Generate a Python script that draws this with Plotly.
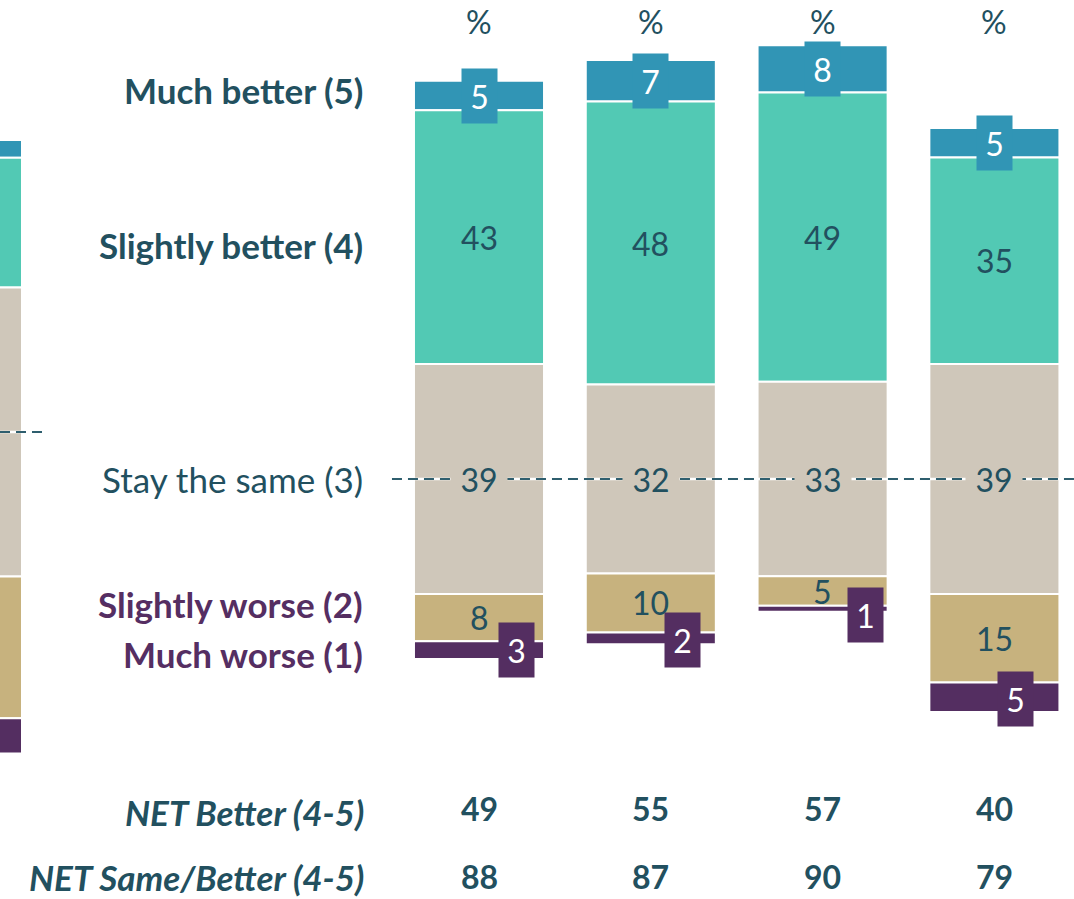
import plotly.graph_objects as go

# Share expecting things to get better/worse, diverging around "Stay the same"
much_better = [5, 7, 8, 5]
slightly_better = [43, 48, 49, 35]
stay_same = [39, 32, 33, 39]
slightly_worse = [8, 10, 5, 15]
much_worse = [3, 2, 1, 5]
net_better = [49, 55, 57, 40]
net_same_better = [88, 87, 90, 79]

# bar of the neighbouring panel, only its right edge shows
prev_much_better = [3]
prev_slightly_better = [22]
prev_stay_same = [49]
prev_slightly_worse = [24]
prev_much_worse = [6]

row_labels = ["Much better (5)", "Slightly better (4)", "Stay the same (3)",
              "Slightly worse (2)", "Much worse (1)"]
net_labels = ["NET Better (4-5)", "NET Same/Better (4-5)"]

C_MB = "#3195B5"
C_SB = "#52C9B4"
C_SS = "#CFC7BA"
C_SW = "#C7B27E"
C_MW = "#542E61"
TEAL = "#22505F"
PURPLE = "#552E62"
FONT = "Lato"

W, H = 1074, 899
PX_UNIT = 5.9       # pixels per percentage point
PX_SLOT = 171.8     # pixels between bar centres
FIRST_X = 479       # pixel x of first bar centre
CENTER_Y = 479      # pixel y of the "same" midline
PREV_CENTER_Y = 432
BAR_W = 0.757
LINE_PAD = 22 / PX_SLOT

xs = list(range(len(much_better)))


def stack(mb, sb, ss, sw, mw):
    ss_base = [-v / 2 for v in ss]
    sb_base = [v / 2 for v in ss]
    mb_base = [a + b for a, b in zip(sb_base, sb)]
    sw_base = [a - b for a, b in zip(ss_base, sw)]
    mw_base = [a - b for a, b in zip(sw_base, mw)]
    return [(mb, mb_base, C_MB), (sb, sb_base, C_SB), (ss, ss_base, C_SS),
            (sw, sw_base, C_SW), (mw, mw_base, C_MW)]


fig = go.Figure()

main = stack(much_better, slightly_better, stay_same, slightly_worse, much_worse)
for vals, base, col in main:
    fig.add_trace(go.Bar(x=xs, y=vals, base=base, width=BAR_W,
                         marker=dict(color=col, line=dict(color="white", width=2)),
                         hoverinfo="skip", showlegend=False))

prev = stack(prev_much_better, prev_slightly_better, prev_stay_same,
             prev_slightly_worse, prev_much_worse)
for vals, base, col in prev:
    fig.add_trace(go.Bar(x=[0], y=vals, base=base, width=BAR_W,
                         marker=dict(color=col, line=dict(color="white", width=2)),
                         xaxis="x2", yaxis="y2", hoverinfo="skip", showlegend=False))

# dashed midlines (white underlay so gaps look white over the bars)
x2_left = BAR_W / 2 - 22 / PX_SLOT
for xref, yref, x0, x1 in [("x", "y", -BAR_W / 2 - LINE_PAD, (W - FIRST_X) / PX_SLOT),
                           ("x2", "y2", x2_left, BAR_W / 2 + LINE_PAD)]:
    fig.add_shape(type="line", xref=xref, yref=yref, x0=x0, x1=x1, y0=0, y1=0,
                  line=dict(color="white", width=2.5), layer="above")
    fig.add_shape(type="line", xref=xref, yref=yref, x0=x0, x1=x1, y0=0, y1=0,
                  line=dict(color="#2E5E6E", width=2, dash="10px,6px"), layer="above")

VAL_SIZE = 32
ann = []
mw_xshift = [37, 32, 43, 21]
mw_yshift = [0, -2, -6, -2]
(mb_v, mb_b, _), (sb_v, sb_b, _), (ss_v, ss_b, _), (sw_v, sw_b, _), (mw_v, mw_b, _) = main


def note(**kw):
    kw.setdefault("showarrow", False)
    kw.setdefault("yanchor", "middle")
    kw.setdefault("xanchor", "center")
    ann.append(kw)


for i in xs:
    # much better: white figure on blue tab
    note(x=i, y=mb_b[i] + mb_v[i] / 2, text=str(mb_v[i]),
         font=dict(family=FONT, size=VAL_SIZE, color="white"),
         bgcolor=C_MB, width=35, height=54, borderpad=0)
    note(x=i, y=sb_b[i] + sb_v[i] / 2, text=str(sb_v[i]),
         font=dict(family=FONT, size=VAL_SIZE, color=TEAL))
    note(x=i, y=ss_b[i] + ss_v[i] / 2, text=str(ss_v[i]),
         font=dict(family=FONT, size=VAL_SIZE, color=TEAL),
         bgcolor=C_SS, width=56, height=36, borderpad=0)
    note(x=i, y=sw_b[i] + sw_v[i] / 2, text=str(sw_v[i]),
         font=dict(family=FONT, size=VAL_SIZE, color=TEAL))
    note(x=i, y=mw_b[i] + mw_v[i] / 2, text=str(mw_v[i]),
         xshift=mw_xshift[i], yshift=mw_yshift[i],
         font=dict(family=FONT, size=VAL_SIZE, color="white"),
         bgcolor=C_MW, width=35, height=54, borderpad=0)
    # percent sign and NET rows
    note(x=i, y=1 - 22 / H, yref="paper", text="%",
         font=dict(family=FONT, size=VAL_SIZE, color=TEAL))
    note(x=i, y=1 - 808 / H, yref="paper", text=f"<b>{net_better[i]}</b>",
         font=dict(family=FONT, size=VAL_SIZE, color=TEAL))
    note(x=i, y=1 - 876 / H, yref="paper", text=f"<b>{net_same_better[i]}</b>",
         font=dict(family=FONT, size=VAL_SIZE, color=TEAL))

# row labels on the left
LABEL_SIZE = 35
row_y = [90, 245, 479, 604, 654]
row_col = [TEAL, TEAL, TEAL, PURPLE, PURPLE]
row_bold = [True, True, False, True, True]
for lab, py, col, bold in zip(row_labels, row_y, row_col, row_bold):
    note(x=365 / W, y=1 - py / H, xref="paper", yref="paper",
         text=f"<b>{lab}</b>" if bold else lab, xanchor="right",
         font=dict(family=FONT, size=LABEL_SIZE, color=col))
for lab, py in zip(net_labels, [812, 877]):
    note(x=365 / W, y=1 - py / H, xref="paper", yref="paper",
         text=f"<b><i>{lab}</i></b>", xanchor="right", borderpad=0,
         font=dict(family=FONT, size=LABEL_SIZE, color=TEAL))

fig.update_layout(
    width=W, height=H,
    margin=dict(l=0, r=0, t=0, b=0),
    paper_bgcolor="white", plot_bgcolor="white",
    barmode="overlay",
    showlegend=False,
    xaxis=dict(range=[-FIRST_X / PX_SLOT, (W - FIRST_X) / PX_SLOT], visible=False,
               fixedrange=True),
    yaxis=dict(range=[-(H - CENTER_Y) / PX_UNIT, CENTER_Y / PX_UNIT], visible=False,
               fixedrange=True),
    xaxis2=dict(range=[x2_left, x2_left + W / PX_SLOT], overlaying="x", visible=False),
    yaxis2=dict(range=[-(H - PREV_CENTER_Y) / PX_UNIT, PREV_CENTER_Y / PX_UNIT],
                overlaying="y", visible=False),
    annotations=ann,
)

# drop the browser's default body margin so the figure sits at the page corner
fig.write_html("out.html", config={"displayModeBar": False},
               post_script="document.body.style.margin='0';document.body.style.overflow='hidden';")
